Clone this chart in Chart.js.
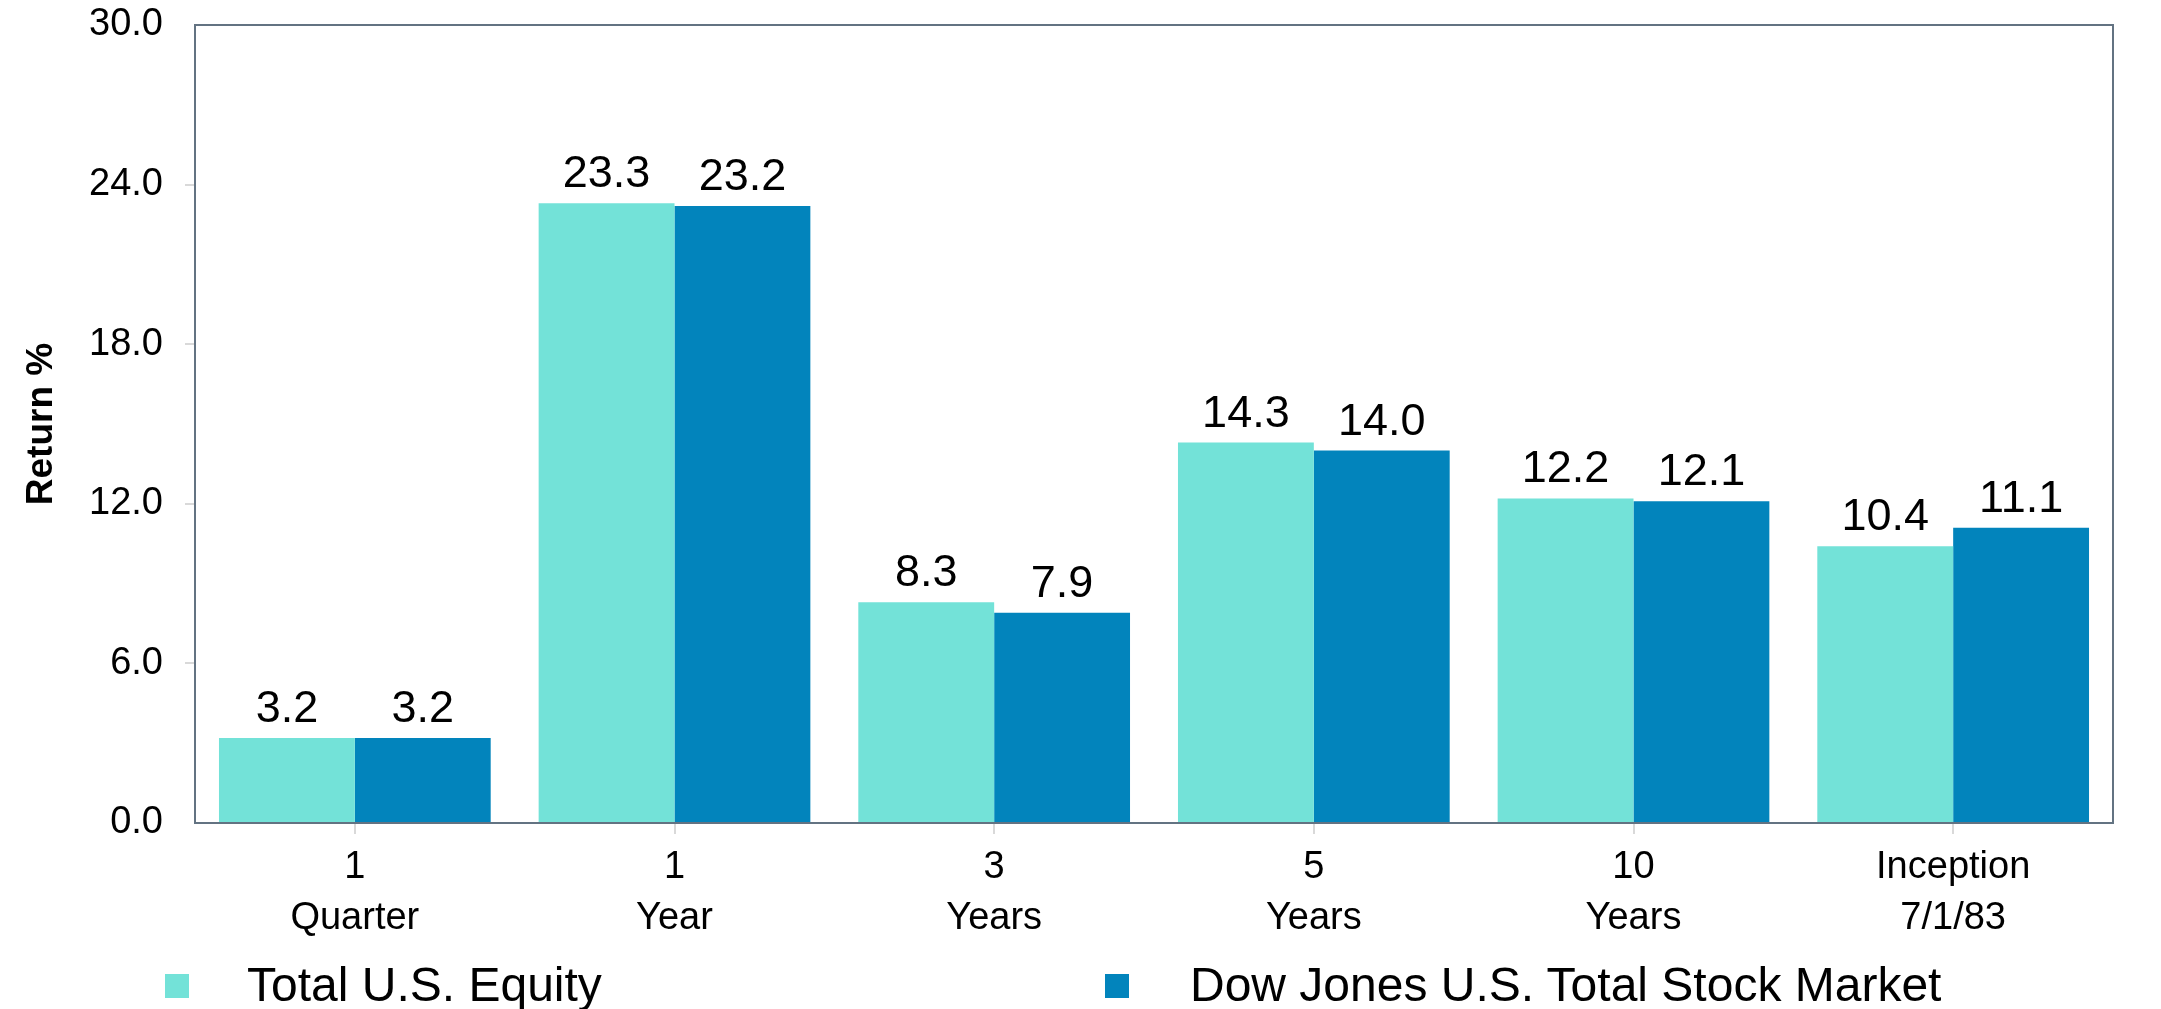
<!DOCTYPE html>
<html>
<head>
<meta charset="utf-8">
<script src="https://cdn.jsdelivr.net/npm/chart.js@4/dist/chart.umd.min.js"></script>
<style>
  html, body { margin: 0; padding: 0; background: #ffffff; overflow: hidden; }
  #wrap { position: relative; width: 2161px; height: 1009px; }
  canvas { position: absolute; left: 0; top: 0; }
  .lg { position: absolute; font-family: "Liberation Sans", Arial, Helvetica, sans-serif; font-size: 48px; line-height: 48px; color: #000; white-space: nowrap; }
  .sw { position: absolute; width: 24px; height: 24px; }
</style>
</head>
<body>
<div id="wrap">
  <canvas id="c" width="2161" height="1009"></canvas>
  <div class="sw" id="sw0" style="left:165px; top:974px;"></div>
  <div class="lg" id="lg0" style="left:247px; top:961px;"></div>
  <div class="sw" id="sw1" style="left:1105px; top:974px;"></div>
  <div class="lg" id="lg1" style="left:1190px; top:961px;"></div>
</div>
<script>
const categories = [["1", "Quarter"], ["1", "Year"], ["3", "Years"], ["5", "Years"], ["10", "Years"], ["Inception", "7/1/83"]];
const seriesNames = ["Total U.S. Equity", "Dow Jones U.S. Total Stock Market"];
const totalUSEquity = [3.2, 23.3, 8.3, 14.3, 12.2, 10.4];
const dowJonesTSM = [3.2, 23.2, 7.9, 14.0, 12.1, 11.1];
const yTicks = [0, 6, 12, 18, 24, 30];
const yTitle = "Return %";

const colors = ["#73E2D8", "#0284BC"];
const FONT = '"Liberation Sans", Arial, Helvetica, sans-serif';

document.getElementById('sw0').style.background = colors[0];
document.getElementById('sw1').style.background = colors[1];
document.getElementById('lg0').textContent = seriesNames[0];
document.getElementById('lg1').textContent = seriesNames[1];

const valueLabels = {
  id: 'valueLabels',
  afterDatasetsDraw(chart) {
    const ctx = chart.ctx;
    ctx.save();
    ctx.font = '45px ' + FONT;
    ctx.fillStyle = '#000';
    ctx.textAlign = 'center';
    ctx.textBaseline = 'alphabetic';
    chart.data.datasets.forEach((ds, i) => {
      const meta = chart.getDatasetMeta(i);
      meta.data.forEach((bar, j) => {
        ctx.fillText(Number(ds.data[j]).toFixed(1), bar.x, bar.y - 16);
      });
    });
    ctx.restore();
  }
};

const frame = {
  id: 'frame',
  afterDatasetsDraw(chart) {
    const {ctx, chartArea: a} = chart;
    ctx.save();
    ctx.strokeStyle = '#637382';
    ctx.lineWidth = 2;
    ctx.strokeRect(a.left, a.top, a.right - a.left, a.bottom - a.top);
    ctx.restore();
  }
};

new Chart(document.getElementById('c'), {
  type: 'bar',
  data: {
    labels: categories,
    datasets: [
      { label: seriesNames[0], data: totalUSEquity, backgroundColor: colors[0], borderWidth: 0 },
      { label: seriesNames[1], data: dowJonesTSM, backgroundColor: colors[1], borderWidth: 0 }
    ]
  },
  options: {
    responsive: false,
    devicePixelRatio: 1,
    animation: false,
    layout: { padding: { left: 0, right: 48, top: 25, bottom: 0 } },
    datasets: { bar: { categoryPercentage: 0.85, barPercentage: 1.0 } },
    plugins: {
      legend: { display: false },
      tooltip: { enabled: false }
    },
    scales: {
      x: {
        border: { display: false },
        grid: { offset: false, drawOnChartArea: false, drawTicks: true, tickLength: 11, color: '#d9d9d9', lineWidth: 2 },
        ticks: { color: '#000', font: { family: FONT, size: 38, lineHeight: 1.34 }, padding: 8, maxRotation: 0, autoSkip: false },
        afterFit(scale) { scale.height = 186; scale.paddingLeft = 0; scale.paddingRight = 0; }
      },
      y: {
        min: 0, max: 30,
        border: { display: false },
        afterBuildTicks(scale) { scale.ticks = yTicks.map(v => ({ value: v })); },
        grid: {
          drawOnChartArea: false, drawTicks: true, tickLength: 10, lineWidth: 2,
          color: (c) => (c.tick && (c.tick.value === 0 || c.tick.value === 30)) ? 'rgba(0,0,0,0)' : '#d9d9d9'
        },
        ticks: { color: '#000', font: { family: FONT, size: 38 }, padding: 22, callback: (v) => Number(v).toFixed(1) },
        title: { display: true, text: yTitle, color: '#000', font: { family: FONT, size: 37, weight: 'bold' }, padding: { top: 20, bottom: 0 } },
        afterFit(scale) { scale.width = 195; scale.paddingTop = 0; scale.paddingBottom = 0; }
      }
    }
  },
  plugins: [valueLabels, frame]
});
</script>
</body>
</html>
